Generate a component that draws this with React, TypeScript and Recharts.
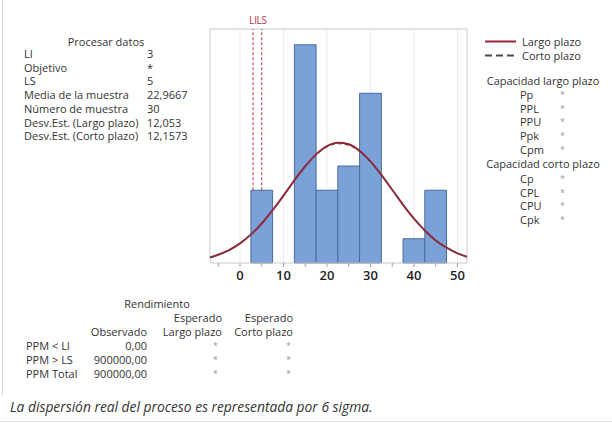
import React from 'react';
import {
	ComposedChart,
	Line,
	XAxis,
	YAxis,
	CartesianGrid,
	ReferenceArea,
	ReferenceLine,
} from 'recharts';

// Histogram bins (width 5) and counts (N = 30)
const binLo = [2.5, 12.5, 17.5, 22.5, 27.5, 37.5, 42.5];
const binHi = [7.5, 17.5, 22.5, 27.5, 32.5, 42.5, 47.5];
const counts = [3, 9, 3, 4, 7, 1, 3];

// Fitted normal curves
const curveX = [-6.9, -5, -2.5, 0, 2.5, 5, 7.5, 10, 12.5, 15, 17.5, 20, 22.5, 25, 27.5, 30, 32.5, 35, 37.5, 40, 42.5, 45, 47.5, 50, 52.2];
const largoY = [0.23, 0.34, 0.53, 0.81, 1.17, 1.63, 2.18, 2.78, 3.41, 3.99, 4.48, 4.82, 4.96, 4.9, 4.63, 4.19, 3.63, 3.02, 2.4, 1.83, 1.34, 0.93, 0.63, 0.4, 0.26];
const cortoY = [0.24, 0.35, 0.55, 0.83, 1.19, 1.65, 2.19, 2.79, 3.4, 3.97, 4.45, 4.78, 4.92, 4.85, 4.59, 4.16, 3.62, 3.02, 2.41, 1.85, 1.35, 0.95, 0.64, 0.42, 0.27];

const xTicks = [-5, 0, 5, 10, 15, 20, 25, 30, 35, 40, 45, 50];
const xGrid = [0, 10, 20, 30, 40, 50];
const yGrid = [1, 2, 3, 4, 5, 6, 7, 8, 9];
const X_MIN = -6.9;
const X_MAX = 52.2;
const Y_MAX = 9.65;
const LI = 3;
const LS = 5;

const procesoLabels = ['LI', 'Objetivo', 'LS', 'Media de la muestra', 'Número de muestra', 'Desv.Est. (Largo plazo)', 'Desv.Est. (Corto plazo)'];
const procesoValues = ['3', '*', '5', '22,9667', '30', '12,053', '12,1573'];

const largoLabels = ['Pp', 'PPL', 'PPU', 'Ppk', 'Cpm'];
const cortoLabels = ['Cp', 'CPL', 'CPU', 'Cpk'];

const rendRows = ['PPM < LI', 'PPM > LS', 'PPM Total'];
const rendObservado = ['0,00', '900000,00', '900000,00'];
const rendLargo = ['*', '*', '*'];
const rendCorto = ['*', '*', '*'];

const COLORS = {
	bar: '#7aa2d8',
	barEdge: '#4a6a9c',
	largo: '#9b2335',
	corto: '#4a4a4a',
	spec: '#b8323f',
	grid: '#ececec',
	frame: '#c9c9c9',
	text: '#333333',
	star: '#9a9a9a',
};

const FONT = '"Open Sans", "Noto Sans", sans-serif';

const curveData = curveX.map((x, i) => ({ x, largo: largoY[i], corto: cortoY[i] }));

function T({ x, y, children, align = 'left', style }: any) {
	// y is the vertical centre of the line of text
	const base: React.CSSProperties = {
		position: 'absolute',
		top: y - 6,
		lineHeight: '12px',
		fontSize: 11,
		color: COLORS.text,
		whiteSpace: 'nowrap',
		fontFamily: FONT,
	};
	if (align === 'left') base.left = x;
	if (align === 'right') base.right = 612 - x;
	if (align === 'center') {
		base.left = x - 100;
		base.width = 200;
		base.textAlign = 'center';
	}
	return <div style={{ ...base, ...style }}>{children}</div>;
}

export default function App() {
	return (
		<div
			style={{
				position: 'absolute',
				left: 0,
				top: 0,
				width: 612,
				height: 423,
				background: '#fff',
				fontFamily: FONT,
				overflow: 'hidden',
			}}
		>
			{/* outer panel borders */}
			<div style={{ position: 'absolute', left: 2, top: 0, width: 1, height: 395, background: '#d6d6d6' }} />
			<div style={{ position: 'absolute', left: 0, top: 421, width: 612, height: 1, background: '#e0e0e0' }} />

			{/* Process data */}
			<T x={106} y={42} align="center">Procesar datos</T>
			{procesoLabels.map((l, i) => (
				<T key={l} x={24} y={54 + i * 13.7}>{l}</T>
			))}
			{procesoValues.map((v, i) => (
				<T key={i} x={147} y={54 + i * 13.7}>{v}</T>
			))}

			<div style={{ position: 'absolute', left: 200, top: 0 }}>
				<ComposedChart
					width={280}
					height={300}
					data={curveData}
					margin={{ top: 29, right: 13, left: 10, bottom: 7 }}
				>
					<CartesianGrid verticalValues={xGrid} horizontalValues={yGrid} stroke={COLORS.grid} />
					<XAxis
						dataKey="x"
						type="number"
						domain={[X_MIN, X_MAX]}
						ticks={xTicks}
						allowDataOverflow
						interval={0}
						height={30}
						axisLine={false}
						tickLine={{ stroke: '#a0a0a0' }}
						tickSize={4}
						tickMargin={4}
						tickFormatter={(v: number) => (v % 10 === 0 ? String(v) : '')}
						tick={{ fill: '#1e1e1e', fontSize: 13, fontWeight: 600, fontFamily: FONT }}
					/>
					<YAxis
						type="number"
						domain={[0, Y_MAX]}
						ticks={yGrid}
						allowDataOverflow
						width={0}
						tick={false}
						axisLine={false}
						tickLine={false}
					/>
					{counts.map((c, i) => (
						<ReferenceArea
							key={i}
							x1={binLo[i]}
							x2={binHi[i]}
							y1={0}
							y2={c}
							fill={COLORS.bar}
							fillOpacity={1}
							stroke={COLORS.barEdge}
							strokeOpacity={1}
							strokeWidth={1}
						/>
					))}
					{/* spec limits: dashed from the frame top down to the bar */}
					<ReferenceLine
						segment={[{ x: LI, y: counts[0] }, { x: LI, y: Y_MAX }]}
						stroke={COLORS.spec}
						strokeDasharray="3 2"
						label={{ value: 'LI', position: 'top', fill: COLORS.spec, fontSize: 10, fontFamily: FONT }}
					/>
					<ReferenceLine
						segment={[{ x: LS, y: counts[0] }, { x: LS, y: Y_MAX }]}
						stroke={COLORS.spec}
						strokeDasharray="3 2"
						label={{ value: 'LS', position: 'top', fill: COLORS.spec, fontSize: 10, fontFamily: FONT }}
					/>
					<Line
						type="monotone"
						dataKey="largo"
						stroke={COLORS.largo}
						strokeWidth={2}
						dot={false}
						isAnimationActive={false}
					/>
					<Line
						type="monotone"
						dataKey="corto"
						stroke={COLORS.corto}
						strokeWidth={1}
						strokeDasharray="4 3"
						dot={false}
						isAnimationActive={false}
					/>
					<ReferenceArea
						x1={X_MIN}
						x2={X_MAX}
						y1={0}
						y2={Y_MAX}
						fill="none"
						stroke={COLORS.frame}
						strokeOpacity={1}
						strokeWidth={1}
					/>
				</ComposedChart>
			</div>

			{/* Legend */}
			<svg style={{ position: 'absolute', left: 484, top: 35 }} width={34} height={28}>
				<line x1={1} y1={6.5} x2={32} y2={6.5} stroke={COLORS.largo} strokeWidth={2} />
				<line x1={1} y1={20.5} x2={32} y2={20.5} stroke={COLORS.corto} strokeWidth={2} strokeDasharray="7 4" />
			</svg>
			<T x={522} y={41.5}>Largo plazo</T>
			<T x={522} y={55.5}>Corto plazo</T>

			<T x={543} y={81.3} align="center">Capacidad largo plazo</T>
			{largoLabels.map((l, i) => (
				<React.Fragment key={l}>
					<T x={520} y={95 + i * 13.7}>{l}</T>
					<T x={560} y={95 + i * 13.7} style={{ color: COLORS.star, fontSize: 9 }}>*</T>
				</React.Fragment>
			))}
			<T x={543} y={163.5} align="center">Capacidad corto plazo</T>
			{cortoLabels.map((l, i) => (
				<React.Fragment key={l}>
					<T x={520} y={179 + i * 13.7}>{l}</T>
					<T x={560} y={179 + i * 13.7} style={{ color: COLORS.star, fontSize: 9 }}>*</T>
				</React.Fragment>
			))}

			{/* Performance table */}
			<T x={157} y={304} align="center">Rendimiento</T>
			<T x={222} y={318} align="right">Esperado</T>
			<T x={293} y={318} align="right">Esperado</T>
			<T x={147} y={332} align="right">Observado</T>
			<T x={222} y={332} align="right">Largo plazo</T>
			<T x={293} y={332} align="right">Corto plazo</T>
			{rendRows.map((r, i) => (
				<React.Fragment key={r}>
					<T x={26} y={346 + i * 14}>{r}</T>
					<T x={147} y={346 + i * 14} align="right">{rendObservado[i]}</T>
					<T x={218} y={346 + i * 14} align="right" style={{ color: COLORS.star, fontSize: 9 }}>{rendLargo[i]}</T>
					<T x={291} y={346 + i * 14} align="right" style={{ color: COLORS.star, fontSize: 9 }}>{rendCorto[i]}</T>
				</React.Fragment>
			))}

			<T x={10} y={407} style={{ fontStyle: 'italic', fontSize: 13.8, lineHeight: '18px', top: 398 }}>
				La dispersión real del proceso es representada por 6 sigma.
			</T>
		</div>
	);
}
